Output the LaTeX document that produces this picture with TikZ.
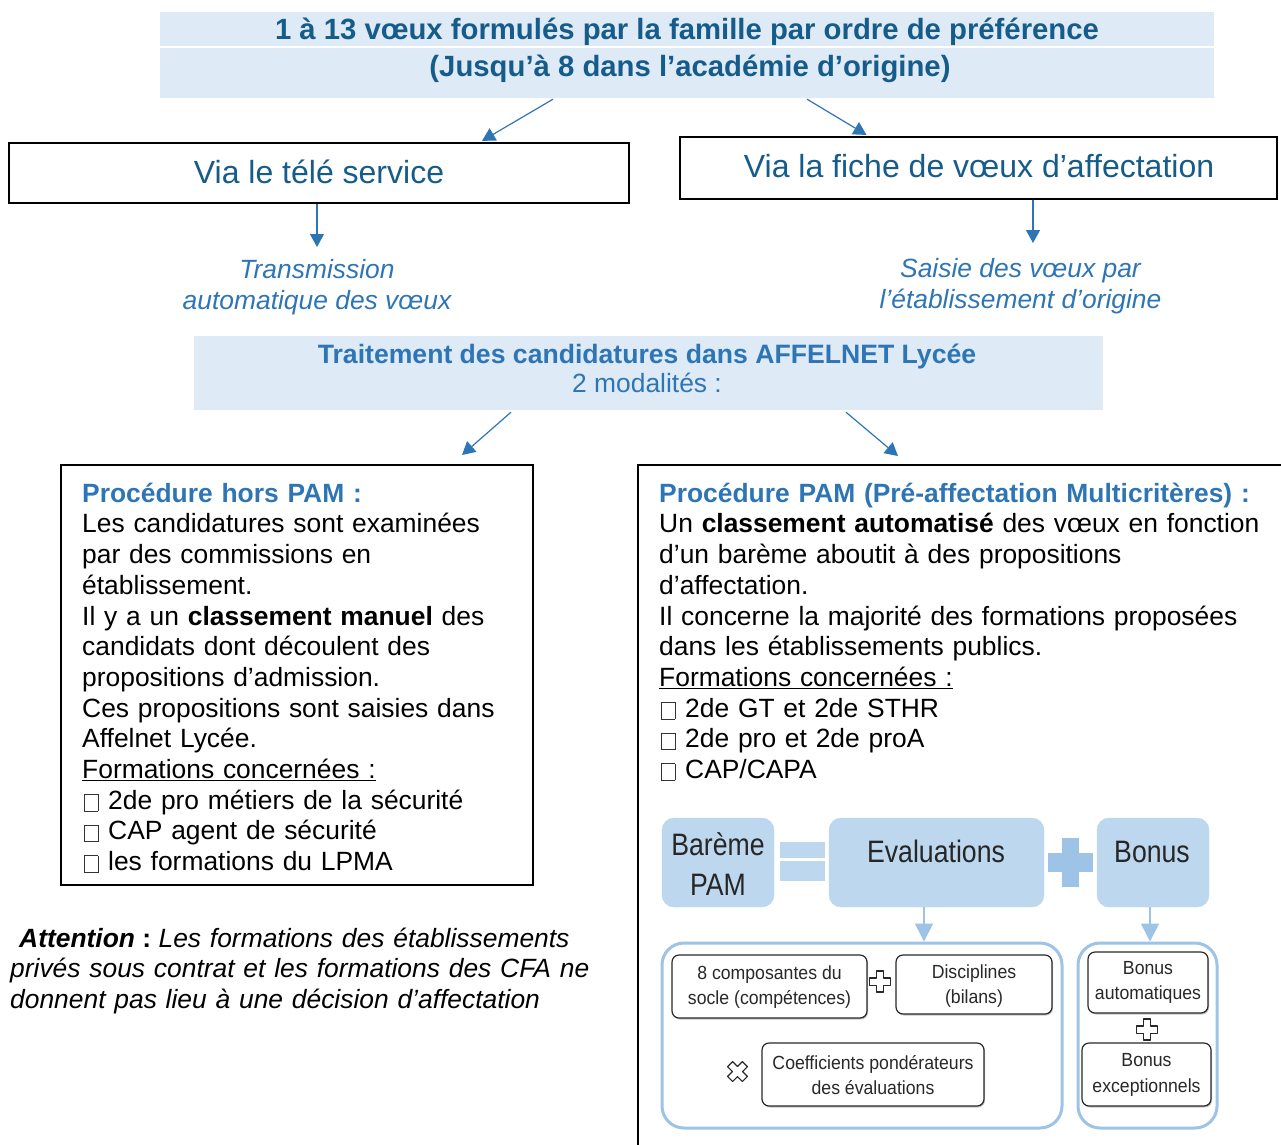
\documentclass[tikz,border=0pt]{standalone}
\usepackage{fontspec}
\setmainfont{Liberation Sans}
\newfontfamily\condbig[FakeStretch=0.86]{Liberation Sans}
\newfontfamily\condsmall[FakeStretch=0.93]{Liberation Sans}
\usetikzlibrary{arrows.meta,shadows}
\definecolor{bandblue}{RGB}{222,234,246}
\definecolor{deepblue}{RGB}{22,92,138}
\definecolor{midblue}{RGB}{46,117,182}
\definecolor{pamfill}{RGB}{189,215,238}
\definecolor{pamline}{RGB}{157,195,230}
\definecolor{inkgray}{RGB}{40,40,40}
\newcommand\bodyfont{\fontsize{26.4pt}{30.7pt}\selectfont}
\newcommand\titlefont{\fontsize{29.3pt}{34pt}\selectfont\bfseries}
\newcommand\viafont{\fontsize{32pt}{38pt}\selectfont}
\newcommand\tofu{\makebox[26pt][l]{\hspace{2pt}\raisebox{-1.5pt}{\color{black!80}\setlength{\fboxsep}{0pt}\setlength{\fboxrule}{0.8pt}\fbox{\rule{0pt}{16pt}\hspace{12.5pt}}}}}
\newcommand\outcross[3]{\draw[crossline, shift={(#1,#2)}, rotate=#3] (-3.6,-10.5) -- (3.6,-10.5) -- (3.6,-3.6) -- (10.5,-3.6) -- (10.5,3.6) -- (3.6,3.6) -- (3.6,10.5) -- (-3.6,10.5) -- (-3.6,3.6) -- (-10.5,3.6) -- (-10.5,-3.6) -- (-3.6,-3.6) -- cycle;}
\begin{document}
\begin{tikzpicture}[x=1pt, y=-1pt,
  band/.style={fill=bandblue, draw=none, inner sep=0pt},
  viabox/.style={draw=black, line width=2.2pt, fill=white, inner sep=0pt},
  viatext/.style={font=\viafont, text=deepblue, anchor=base, inner sep=0pt},
  arr/.style={draw=midblue, line width=1.2pt, -{Triangle[length=13pt,width=14pt]}},
  italnote/.style={font=\bodyfont\itshape, text=midblue, align=center, anchor=north, inner xsep=0pt, execute at begin node=\strut},
  textblock/.style={font=\bodyfont, inner sep=0pt, anchor=north west, align=left, execute at begin node=\strut},
  bigpam/.style={fill=pamfill, draw=pamfill, rounded corners=12pt, inner sep=0pt},
  bigtext/.style={font=\condbig\fontsize{31pt}{40pt}\selectfont, text=black!85, inner sep=0pt},
  container/.style={draw=pamline, line width=3pt, rounded corners=22pt, inner sep=0pt},
  smallbox/.style={draw=inkgray, line width=1.2pt, fill=white, rounded corners=7pt, inner sep=0pt,
     drop shadow={shadow xshift=1pt, shadow yshift=-1.5pt, fill=black!45}},
  smalltext/.style={font=\condsmall\fontsize{19pt}{25.5pt}\selectfont, text=inkgray, align=center},
  pamarrow/.style={draw=pamline, line width=1.6pt, -{Triangle[length=18pt,width=18pt]}},
  crossline/.style={draw=inkgray, line width=1.2pt, fill=white, line join=round}]
\useasboundingbox (0,0) rectangle (1281,1144);

% title band
\node[band, minimum width=1054pt, minimum height=86pt] (title) at (687,55) {};
\draw[white, line width=1.5pt] (title.west |- 0,47) -- (title.east |- 0,47);
\node[font=\titlefont, text=deepblue, anchor=base, inner sep=0pt] (t1) at (687,39.5) {1 à 13 vœux formulés par la famille par ordre de préférence};
\node[font=\titlefont, text=deepblue, anchor=base, inner sep=0pt] (t2) at (690,76.5) {(Jusqu’à 8 dans l’académie d’origine)};

% via boxes
\node[viabox, minimum width=620pt, minimum height=60pt] (tele) at (319,173) {};
\node[viatext] (teletext) at (319,183) {Via le télé service};
\node[viabox, minimum width=597pt, minimum height=62pt] (fiche) at (978.5,168) {};
\node[viatext] (fichetext) at (979,177) {Via la fiche de vœux d’affectation};

\draw[arr] ([xshift=-134pt,yshift=-1pt]title.south) -- ([xshift=163pt,yshift=1pt]tele.north);
\draw[arr] ([xshift=120pt,yshift=-1pt]title.south) -- ([xshift=-112pt,yshift=1pt]fiche.north);

% italic notes
\node[italnote, inner ysep=12pt] (trans) at (317,247) {Transmission\\automatique des vœux};
\node[italnote, inner ysep=15pt] (saisie) at (1020.5,243) {Saisie des vœux par\\l’établissement d’origine};
\draw[arr] (tele.south -| trans.north) -- (trans.north);
\draw[arr] ([xshift=54.5pt]fiche.south) -- ([xshift=54.5pt]fiche.south |- saisie.north);

% traitement band
\node[band, minimum width=909pt, minimum height=74pt] (trait) at (648.5,373) {};
\node[font=\fontsize{26.6pt}{30.7pt}\selectfont\bfseries, text=midblue, anchor=base, inner sep=0pt] (tr1) at (647,363) {Traitement des candidatures dans AFFELNET Lycée};
\node[font=\bodyfont, text=midblue, anchor=base, inner sep=0pt] (tr2) at (647,392) {2 modalités :};

% left box
\node[draw=black, line width=2pt, minimum width=472pt, minimum height=420pt, inner sep=0pt] (hors) at (297,675) {};
\node[textblock, text width=445pt] (horstext) at (82,480.5) {%
{\bfseries\color{midblue}Procédure hors PAM :}\\
Les candidatures sont examinées\\
par des commissions en\\
établissement.\\
Il y a un \textbf{classement manuel} des\\
candidats dont découlent des\\
propositions d’admission.\\
Ces propositions sont saisies dans\\
Affelnet Lycée.\\
\underline{Formations concernées :}\\
\tofu 2de pro métiers de la sécurité\\
\tofu CAP agent de sécurité\\
\tofu les formations du LPMA};

% right (PAM) box, open to the right and bottom
\coordinate (pamcorner) at (638,465);
\draw[line width=2.2pt] (pamcorner |- 0,1150) -- (pamcorner) -- (pamcorner -| 1290,0);
\node[textblock, text width=615pt] (pamtext) at (659,480.5) {%
{\bfseries\color{midblue}Procédure PAM (Pré-affectation Multicritères) :}\\
Un \textbf{classement automatisé} des vœux en fonction\\
d’un barème aboutit à des propositions\\
d’affectation.\\
Il concerne la majorité des formations proposées\\
dans les établissements publics.\\
\underline{Formations concernées :}\\
\tofu 2de GT et 2de STHR\\
\tofu 2de pro et 2de proA\\
\tofu CAP/CAPA};

\draw[arr] ([xshift=-137.5pt,yshift=-2pt]trait.south) -- ([xshift=165pt,yshift=9pt]hors.north);
\draw[arr] ([xshift=197.5pt,yshift=-2pt]trait.south) -- ([shift={(260pt,9pt)}]pamcorner);

% attention
\node[textblock, text width=600pt] (attn) at (10,925.5) {%
\hspace*{9pt}\textbf{\textit{Attention}}\hspace{0.28em}\textbf{:}\hspace{0.28em}\textit{Les formations des établissements}\\
\textit{privés sous contrat et les formations des CFA ne}\\
\textit{donnent pas lieu à une décision d’affectation}};

% PAM formula
\node[bigpam, minimum width=112pt, minimum height=89pt] (bareme) at (718,862.5) {};
\node[bigtext, align=center] (baremetext) at (718,864) {Barème\\PAM};
\node[bigpam, minimum width=215pt, minimum height=89pt] (eval) at (936.5,862.5) {};
\node[bigtext, anchor=base] (evaltext) at (936,862) {Evaluations};
\node[bigpam, minimum width=112pt, minimum height=89pt] (bonus) at (1153,862.5) {};
\node[bigtext, anchor=base] (bonustext) at (1152,862) {Bonus};
\fill[pamfill] (780,842) rectangle (825,858);
\fill[pamfill] (780,861) rectangle (825,881);
\fill[pamline] (1062,838) rectangle (1079,887);
\fill[pamline] (1048,853) rectangle (1093,872);

\node[container, minimum width=400pt, minimum height=185pt] (cL) at (862,1035.5) {};
\node[container, minimum width=139pt, minimum height=185pt] (cR) at (1147.5,1035.5) {};
\draw[pamarrow] ([xshift=-12.5pt]eval.south) -- ([xshift=-12.5pt]eval.south |- cL.north);
\draw[pamarrow] ([xshift=-3pt]bonus.south) -- ([xshift=-3pt]bonus.south |- cR.north);

\node[smallbox, minimum width=195pt, minimum height=63pt] (comp) at (769.5,986.5) {};
\node[smalltext] (comptext) at (769.5,987) {8 composantes du\\socle (compétences)};
\node[smallbox, minimum width=156pt, minimum height=59pt] (disc) at (974,984.5) {};
\node[smalltext] (disctext) at (974,986) {Disciplines\\(bilans)};
\node[smallbox, minimum width=222pt, minimum height=63pt] (coef) at (873,1074.5) {};
\node[smalltext] (coeftext) at (873,1075) {Coefficients pondérateurs\\des évaluations};
\node[smallbox, minimum width=120pt, minimum height=61pt] (bauto) at (1148,982.5) {};
\node[smalltext] (bautotext) at (1148,982.5) {Bonus\\automatiques};
\node[smallbox, minimum width=129pt, minimum height=63pt] (bexc) at (1146.5,1074.5) {};
\node[smalltext] (bexctext) at (1146.5,1075) {Bonus\\exceptionnels};

\outcross{880}{981.5}{0}
\outcross{1147}{1029.5}{0}
\outcross{737.5}{1071.5}{45}
\end{tikzpicture}
\end{document}
